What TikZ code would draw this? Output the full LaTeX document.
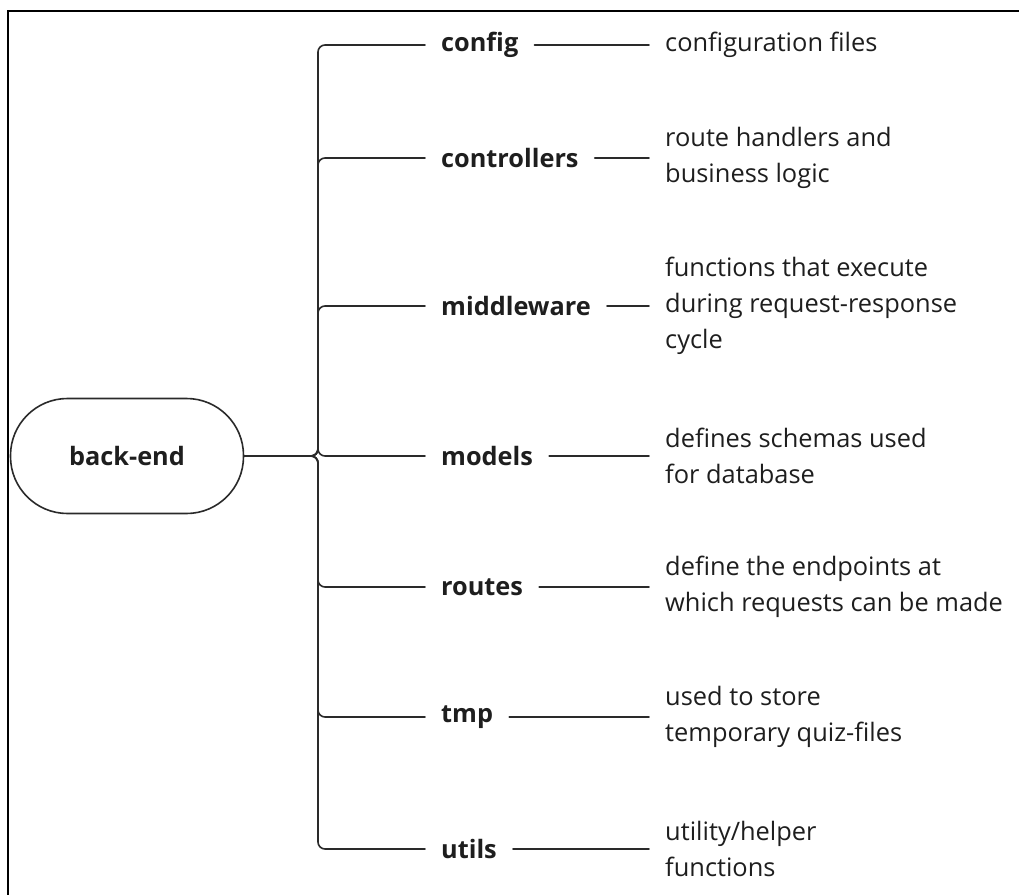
\documentclass[tikz,border=0pt]{standalone}
\usepackage{fontspec}
\setmainfont{Open Sans}
\definecolor{ink}{HTML}{1E1E1E}
\definecolor{wire}{HTML}{2A2A2A}
\begin{document}
\begin{tikzpicture}[x=1pt,y=-1pt,
  wirestyle/.style={draw=wire,line width=1.6pt,line cap=round,line join=round},
  rootbox/.style={draw=wire,line width=1.6pt,rounded corners=57pt,
    minimum width=233pt,minimum height=115pt,inner sep=0pt,
    font=\fontsize{25.3}{30}\selectfont\bfseries,text=ink},
  folder/.style={anchor=west,inner xsep=16pt,inner ysep=0pt,
    font=\fontsize{25.3}{30}\selectfont\bfseries,text=ink},
  note/.style={anchor=west,inner xsep=16pt,inner ysep=0pt,align=left,
    font=\fontsize{25.4}{36}\selectfont,text=ink}]
\useasboundingbox (0,0) rectangle (1019,894);

% frame edges
\draw[line width=2.4pt,black] (8,900) -- (8,11) -- (1025,11);

% root
\node[rootbox] (root) at (127,456) {back-end};
\coordinate (hub) at (318,456);

% folders
\node[folder] (config) at (425,45) {config};
\node[folder] (controllers) at (425,158) {controllers};
\node[folder] (middleware) at (425,306) {middleware};
\node[folder] (models) at (425,456) {models};
\node[folder] (routes) at (425,587) {routes};
\node[folder] (tmp) at (425,717) {tmp};
\node[folder] (utils) at (425,849) {utils};

% descriptions
\node[note] (dconfig) at (649,45) {configuration files};
\node[note] (dcontrollers) at (649,158) {route handlers and\\business logic};
\node[note] (dmiddleware) at (649,306) {functions that execute\\during request-response\\cycle};
\node[note] (dmodels) at (649,456) {defines schemas used\\for database};
\node[note] (droutes) at (649,587) {define the endpoints at\\which requests can be made};
\node[note] (dtmp) at (649,717) {used to store\\temporary quiz-files};
\node[note] (dutils) at (649,849) {utility/helper\\functions};

% branches from the root to each folder
\foreach \f in {config,controllers,middleware,models,routes,tmp,utils}{
  \draw[wirestyle,rounded corners=7pt] (root.east) -- (hub) |- (\f.west);
  \draw[wirestyle] (\f.east) -- (d\f.west);
}
\end{tikzpicture}
\end{document}
